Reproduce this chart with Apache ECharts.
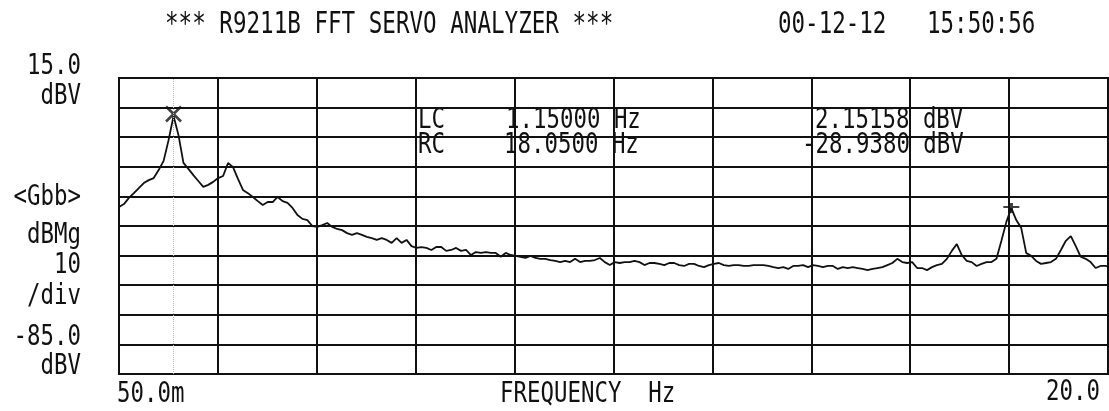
<!DOCTYPE html>
<html>
<head>
<meta charset="utf-8">
<script src="https://cdn.jsdelivr.net/npm/echarts@6.0.0/dist/echarts.min.js"></script>
<style>
  html, body { margin: 0; padding: 0; background: #fff; }
  #chart { width: 1109px; height: 411px; }
</style>
</head>
<body>
<div id="chart"></div>
<script>
// spectrum trace, dBV, one value every 0.1 Hz starting at 0.05 Hz
var startHz = 0.05
var stepHz = 0.1
var levels = [
  -28.6, -27.6, -25.5, -23.9, -22.2, -20.5, -19.5, -18.8, -16.1, -13.0,
  -6.0, 2.15158, -4.3, -13.7, -15.7, -17.8, -19.8, -21.8, -21.1, -20.1,
  -18.8, -18.1, -13.7, -15.1, -19.1, -22.8, -23.9, -25.2, -26.6, -27.9,
  -26.9, -26.9, -25.2, -26.6, -27.2, -28.9, -31.3, -32.6, -33.0, -35.0,
  -35.3, -34.7, -34.0, -35.3, -36.0, -36.4, -37.4, -38.0, -37.4, -38.0,
  -38.7, -39.1, -39.7, -39.1, -39.7, -40.7, -39.1, -40.7, -39.7, -41.8,
  -42.4, -42.1, -42.4, -43.1, -42.1, -42.1, -43.4, -43.1, -42.4, -43.4,
  -43.1, -44.8, -43.8, -44.1, -43.8, -44.1, -44.1, -45.4, -44.1, -44.8,
  -45.1, -45.4, -45.8, -45.1, -45.8, -46.1, -46.1, -46.5, -46.8, -47.2,
  -46.8, -47.2, -46.1, -47.2, -46.8, -46.8, -46.5, -45.8, -47.2, -48.2,
  -47.2, -47.5, -47.2, -47.2, -46.8, -47.2, -48.2, -47.5, -47.5, -47.8,
  -48.2, -47.5, -47.5, -48.2, -48.5, -47.8, -47.8, -48.5, -48.9, -48.2,
  -47.8, -47.5, -48.2, -48.5, -48.2, -48.2, -48.5, -48.5, -48.2, -48.2,
  -48.2, -48.5, -48.9, -49.2, -48.9, -49.5, -48.5, -48.5, -48.2, -48.9,
  -48.2, -48.5, -48.9, -48.5, -48.5, -49.5, -48.9, -49.2, -48.9, -49.2,
  -49.5, -49.9, -49.5, -49.2, -48.9, -48.2, -47.5, -46.1, -47.2, -47.5,
  -47.2, -49.2, -49.2, -49.9, -48.9, -48.2, -47.8, -46.1, -43.4, -41.1,
  -44.8, -46.8, -47.2, -48.5, -47.8, -47.2, -47.2, -46.1, -40.0, -33.6,
  -28.938, -33.0, -35.7, -44.1, -45.1, -46.8, -47.8, -47.5, -47.2, -46.1,
  -43.1, -40.0, -38.4, -41.8, -45.4, -46.1, -47.2, -49.2, -48.5, -48.5,
  -48.9
]

// markers: left cursor (LC) and right cursor (RC)
var lcHz = 1.15
var lcDbv = 2.15158
var rcHz = 18.05
var rcDbv = -28.938

var titleText = '*** R9211B FFT SERVO ANALYZER ***'
var stampText = '00-12-12   15:50:56'
var yLabels = ['15.0', 'dBV', '<Gbb>', 'dBMg', '10', '/div', '-85.0', 'dBV']
var xLabels = ['50.0m', 'FREQUENCY  Hz', '20.0']
var lcRow = ['LC', '1.15000 Hz', '2.15158 dBV']
var rcRow = ['RC', '18.0500 Hz', '-28.9380 dBV']

var ink = '#111'
var chart = echarts.init(document.getElementById('chart'), null, { renderer: 'canvas' })

// plotter style text: monospace squeezed sideways
function txt (s, x, y, align, size, sx) {
  return {
    type: 'text',
    x: x,
    y: y,
    scaleX: sx || 0.8,
    silent: true,
    style: {
      text: s,
      font: (size || 28) + 'px "DejaVu Sans Mono"',
      fill: ink,
      align: align || 'left',
      verticalAlign: 'middle'
    }
  }
}

var yPos = [67, 97, 198, 236, 266, 297, 338, 367]
var graphics = [
  txt(titleText, 165, 25, 'left', 30, 0.752),
  txt(stampText, 778, 25, 'left', 30, 0.75),
  txt(xLabels[0], 117, 395, 'left'),
  txt(xLabels[1], 500, 395, 'left'),
  txt(xLabels[2], 1100, 393, 'right'),
  txt(lcRow[0], 418, 121, 'left'),
  txt(lcRow[1], 506, 121, 'left'),
  txt(lcRow[2], 815, 121, 'left'),
  txt(rcRow[0], 418, 146, 'left'),
  txt(rcRow[1], 504, 146, 'left'),
  txt(rcRow[2], 802, 146, 'left')
]
yLabels.forEach(function (s, i) {
  graphics.push(txt(s, 81, yPos[i], 'right'))
})

var gridLine = { color: ink, width: 2 }

chart.setOption({
  animation: false,
  backgroundColor: '#fff',
  grid: {
    left: 119,
    top: 78,
    right: 1,
    bottom: 37,
    show: true,
    borderColor: ink,
    borderWidth: 2
  },
  xAxis: [
    { type: 'value', min: 0.05, max: 20, show: false },
    {
      type: 'value',
      min: 0,
      max: 10,
      interval: 1,
      position: 'bottom',
      axisLine: { show: false },
      axisTick: { show: false },
      axisLabel: { show: false },
      splitLine: { show: true, lineStyle: gridLine }
    }
  ],
  yAxis: [
    { type: 'value', min: -85, max: 15, show: false },
    {
      type: 'value',
      min: 0,
      max: 10,
      interval: 1,
      position: 'left',
      axisLine: { show: false },
      axisTick: { show: false },
      axisLabel: { show: false },
      splitLine: { show: true, lineStyle: gridLine }
    }
  ],
  graphic: graphics,
  series: [
    {
      name: 'trace',
      type: 'line',
      xAxisIndex: 0,
      yAxisIndex: 0,
      showSymbol: false,
      symbol: 'none',
      lineStyle: { color: ink, width: 1.8 },
      data: levels.map(function (v, i) {
        return [startHz + i * stepHz, v]
      }),
      markLine: {
        silent: true,
        symbol: 'none',
        label: { show: false },
        lineStyle: { color: '#bbb', type: 'dotted', width: 1 },
        data: [{ xAxis: lcHz }]
      }
    },
    {
      name: 'LC',
      type: 'scatter',
      xAxisIndex: 0,
      yAxisIndex: 0,
      symbol: 'path://M0,0L10,10M10,0L0,10',
      symbolSize: [15, 15],
      symbolOffset: [0, -2],
      itemStyle: { color: 'transparent', borderColor: ink, borderWidth: 2.6 },
      data: [[lcHz, lcDbv]]
    },
    {
      name: 'RC',
      type: 'scatter',
      xAxisIndex: 0,
      yAxisIndex: 0,
      symbol: 'path://M0,4L10,4M5,0L5,10',
      symbolSize: [16, 10],
      itemStyle: { color: 'transparent', borderColor: ink, borderWidth: 2.6 },
      data: [[rcHz, rcDbv]]
    }
  ]
})
</script>
</body>
</html>
